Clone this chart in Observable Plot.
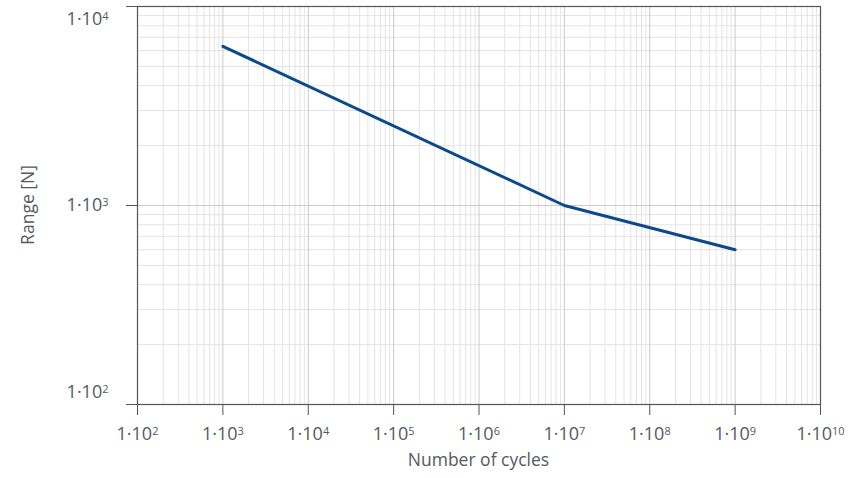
<!DOCTYPE html>
<html>
<head>
<meta charset="utf-8">
<script src="https://cdn.jsdelivr.net/npm/d3@7"></script>
<script src="https://cdn.jsdelivr.net/npm/@observablehq/plot@0.6"></script>
<style>
  html, body { margin: 0; padding: 0; background: #fff; }
  #chart svg { display: block; }
</style>
</head>
<body>
<div id="chart"></div>
<script>
// Data
const cycles = [1e3, 1e7, 1e9];
const range = [6310, 1000, 599];
const xTicks = [1e2, 1e3, 1e4, 1e5, 1e6, 1e7, 1e8, 1e9, 1e10];
const yTicks = [1e2, 1e3, 1e4];
const xTickLabels = ["1·10^2","1·10^3","1·10^4","1·10^5","1·10^6","1·10^7","1·10^8","1·10^9","1·10^10"];
const yTickLabels = ["1·10^2","1·10^3","1·10^4"];

const points = cycles.map((c, i) => ({cycles: c, range: range[i]}));
const minor = (ticks) => ticks.slice(0, -1).flatMap(d => d3.range(2, 10).map(k => k * d));
const xMinor = minor(xTicks);
const yMinor = minor(yTicks);
const fmt = (ticks, labels) => (d) => {
  const i = ticks.findIndex(t => Math.abs(Math.log10(t) - Math.log10(d)) < 1e-6);
  return i >= 0 ? labels[i] : "";
};
const yFmt = fmt(yTicks, yTickLabels);

const font = "'Open Sans', sans-serif";
const txt = "#555a60";

const plot = Plot.plot({
  width: 862,
  height: 478,
  marginLeft: 137,
  marginRight: 42,
  marginTop: 6,
  marginBottom: 74,
  style: {fontFamily: font, fontSize: "18px", color: txt, background: "#fff"},
  x: {type: "log", domain: [1e2, 1e10], label: null},
  y: {type: "log", domain: [1e2, 1e4], label: null},
  marks: [
    Plot.ruleX(xMinor, {stroke: "#e4e4e4", strokeWidth: 1}),
    Plot.ruleY(yMinor, {stroke: "#e4e4e4", strokeWidth: 1}),
    Plot.ruleX(xTicks, {stroke: "#cbcbcb", strokeWidth: 1}),
    Plot.ruleY(yTicks, {stroke: "#cbcbcb", strokeWidth: 1}),
    Plot.frame({stroke: "#555", strokeWidth: 1.2}),
    Plot.axisX({ticks: xTicks, tickFormat: fmt(xTicks, xTickLabels), tickSize: 11, tickPadding: 12, stroke: "#555", fill: txt, fontSize: 18, label: null}),
    Plot.axisY({ticks: yTicks, tickFormat: null, text: null, tickSize: 11, stroke: "#555", label: null}),
    Plot.axisY({ticks: [yTicks[1]], tickFormat: yFmt, tickSize: 0, tickPadding: 29, fill: txt, fontSize: 18, label: null}),
    Plot.axisY({ticks: [yTicks[0]], tickFormat: yFmt, tickSize: 0, tickPadding: 29, dy: -12, fill: txt, fontSize: 18, label: null}),
    Plot.axisY({ticks: [yTicks[2]], tickFormat: yFmt, tickSize: 0, tickPadding: 29, dy: 13, fill: txt, fontSize: 18, label: null}),
    Plot.line(points, {x: "cycles", y: "range", stroke: "#0a4a8a", strokeWidth: 3})
  ]
});

// Render exponents as superscripts
d3.select(plot).selectAll('g[aria-label$="tick label"] text').each(function() {
  const t = d3.select(this);
  const s = this.textContent;
  const parts = s.split("^");
  if (parts.length === 2) {
    t.selectAll("*").remove();
    t.text(null);
    t.attr("font-size", "18px");
    t.append("tspan").text(parts[0]);
    t.append("tspan").attr("dy", "-0.5em").attr("font-size", "11px").text(parts[1]);
  }
});

// Axis titles
const svg = d3.select(plot);
svg.append("text")
  .attr("x", (137 + 820) / 2).attr("y", 466)
  .attr("text-anchor", "middle")
  .attr("fill", txt).attr("font-size", 17.5).attr("font-family", font)
  .text("Number of cycles");
svg.append("text")
  .attr("transform", "translate(34,205) rotate(-90)")
  .attr("text-anchor", "middle")
  .attr("fill", txt).attr("font-size", 17.5).attr("font-family", font)
  .text("Range [N]");

document.getElementById("chart").appendChild(plot);
</script>
</body>
</html>
